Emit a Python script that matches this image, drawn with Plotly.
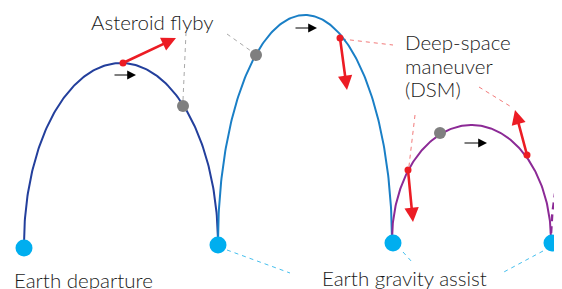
import numpy as np
import plotly.graph_objects as go

# ---- diagram data (pixel-space coordinates, y down) ----
arc_names = ["Leg 1", "Leg 2", "Leg 3", "Next leg"]
arc_start_x = [24, 218, 392, 551]
arc_end_x = [218, 392, 551, 711]
arc_base_y = [244, 242, 240, 240]
arc_top_y = [63, 15, 125, 92]
arc_t_max = [1.0, 1.0, 1.0, 0.36]     # fraction of the half-arc drawn
arc_colors = ["#233f9c", "#1a7fc6", "#8c2a96", "#8c2a96"]
arc_dash = ["solid", "solid", "solid", "dash"]

earth_x = [24, 218, 393, 552]
earth_y = [248, 245, 243, 243]

flyby_x = [183, 256, 440]
flyby_y = [106, 55, 133]

dsm_x = [123, 340, 408, 527]
dsm_y = [63, 38, 170, 155]
dsm_tip_x = [176, 347, 413, 515]
dsm_tip_y = [38, 90, 222, 110]

dir_x0 = [113, 294, 463]
dir_x1 = [136, 317, 487]
dir_y = [75, 28, 143]

gray_lead = [[(183, 100), (186, 33)], [(227, 34), (251, 51)]]
red_lead = [[(342, 39), (393, 45)], [(479, 87), (513, 108)], [(415, 115), (409, 166)]]
cyan_lead = [[(227, 250), (290, 273)], [(403, 252), (412, 262)], [(543, 251), (502, 273)]]

labels = ["Asteroid flyby", "Deep-space<br>maneuver<br>(DSM)", "Earth departure", "Earth gravity assist"]
label_x = [89, 403, 12, 320]
label_y = [22, 42, 280, 278]
line_gap = 23.5

FONT = "Lato"
PAGE_OFFSET = 8  # body margin of the page

fig = go.Figure()

# leader lines
for segs, col in [(gray_lead, "#a8a8a8"), (red_lead, "#f27a7a"), (cyan_lead, "#45bfee")]:
    for (p0, p1) in segs:
        fig.add_trace(go.Scatter(x=[p0[0], p1[0]], y=[p0[1], p1[1]], mode="lines",
                                 line=dict(color=col, width=1, dash="4px,4px"),
                                 hoverinfo="skip", showlegend=False))

# arcs
for i in range(len(arc_names)):
    cx = (arc_start_x[i] + arc_end_x[i]) / 2
    a = (arc_end_x[i] - arc_start_x[i]) / 2
    b = arc_base_y[i] - arc_top_y[i]
    t = np.linspace(0, np.pi * arc_t_max[i], 200)
    xs = cx - a * np.cos(t)
    ys = arc_base_y[i] - b * np.sin(t)
    if arc_dash[i] == "dash":
        xs, ys = xs[8:], ys[8:]
    fig.add_trace(go.Scatter(x=xs, y=ys, mode="lines", name=arc_names[i],
                             line=dict(color=arc_colors[i], width=2 if arc_dash[i] == "solid" else 2.4,
                                       dash="solid" if arc_dash[i] == "solid" else "7px,5px"),
                             hoverinfo="skip", showlegend=False))

# markers
fig.add_trace(go.Scatter(x=earth_x, y=earth_y, mode="markers",
                         marker=dict(size=17, color="#00aeef", line=dict(width=0)),
                         hoverinfo="skip", showlegend=False))
fig.add_trace(go.Scatter(x=flyby_x, y=flyby_y, mode="markers",
                         marker=dict(size=12, color="#7f7f7f", line=dict(width=0)),
                         hoverinfo="skip", showlegend=False))
fig.add_trace(go.Scatter(x=dsm_x, y=dsm_y, mode="markers",
                         marker=dict(size=7, color="#ec1c24", line=dict(width=0)),
                         hoverinfo="skip", showlegend=False))

annotations = []
for i in range(len(dsm_x)):
    annotations.append(dict(x=dsm_tip_x[i], y=dsm_tip_y[i], ax=dsm_x[i], ay=dsm_y[i],
                            xref="x", yref="y", axref="x", ayref="y", text="",
                            showarrow=True, arrowhead=2, arrowsize=1.1, arrowwidth=2.6,
                            arrowcolor="#ec1c24"))
for i in range(len(dir_x0)):
    annotations.append(dict(x=dir_x1[i], y=dir_y[i], ax=dir_x0[i], ay=dir_y[i],
                            xref="x", yref="y", axref="x", ayref="y", text="",
                            showarrow=True, arrowhead=2, arrowsize=1.6, arrowwidth=1.1,
                            arrowcolor="#000000"))
for i in range(len(labels)):
    for k, line in enumerate(labels[i].split("<br>")):
        annotations.append(dict(x=label_x[i], y=label_y[i] + k * line_gap, xref="x", yref="y",
                                text=line, showarrow=False, xanchor="left", yanchor="middle",
                                align="left",
                                font=dict(family=FONT, size=20.5, color="#1a1a1a", weight=300)))

fig.update_layout(
    width=562, height=289,
    margin=dict(l=0, r=0, t=0, b=0),
    paper_bgcolor="white", plot_bgcolor="white",
    xaxis=dict(range=[PAGE_OFFSET, 562 + PAGE_OFFSET], visible=False, fixedrange=True),
    yaxis=dict(range=[289 + PAGE_OFFSET, PAGE_OFFSET], visible=False, fixedrange=True),
    annotations=annotations,
)
fig.write_html("out.html")
